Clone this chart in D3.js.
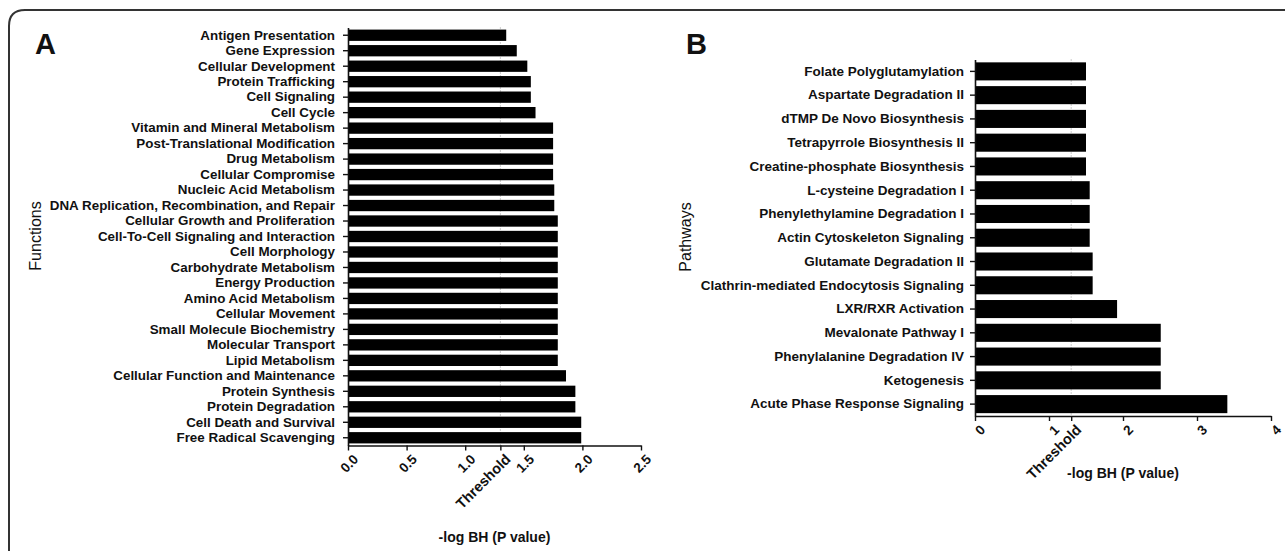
<!DOCTYPE html>
<html>
<head>
<meta charset="utf-8">
<script src="https://cdn.jsdelivr.net/npm/d3@7"></script>
<style>
  body { margin: 0; background: #fff; }
  svg text { font-family: "Liberation Sans", Arial, sans-serif; fill: #111; }
</style>
</head>
<body>
<svg id="chart" width="1285" height="551"></svg>
<script>
// --- data ---
const functionNames = [
  "Antigen Presentation", "Gene Expression", "Cellular Development", "Protein Trafficking",
  "Cell Signaling", "Cell Cycle", "Vitamin and Mineral Metabolism", "Post-Translational Modification",
  "Drug Metabolism", "Cellular Compromise", "Nucleic Acid Metabolism",
  "DNA Replication, Recombination, and Repair", "Cellular Growth and Proliferation",
  "Cell-To-Cell Signaling and Interaction", "Cell Morphology", "Carbohydrate Metabolism",
  "Energy Production", "Amino Acid Metabolism", "Cellular Movement", "Small Molecule Biochemistry",
  "Molecular Transport", "Lipid Metabolism", "Cellular Function and Maintenance",
  "Protein Synthesis", "Protein Degradation", "Cell Death and Survival", "Free Radical Scavenging"
];
const functionValues = [
  1.35, 1.44, 1.53, 1.56, 1.56, 1.60, 1.75, 1.75, 1.75, 1.75, 1.76,
  1.76, 1.79, 1.79, 1.79, 1.79, 1.79, 1.79, 1.79, 1.79, 1.79, 1.79,
  1.86, 1.94, 1.94, 1.99, 1.99
];
const pathwayNames = [
  "Folate Polyglutamylation", "Aspartate Degradation II", "dTMP De Novo Biosynthesis",
  "Tetrapyrrole Biosynthesis II", "Creatine-phosphate Biosynthesis", "L-cysteine Degradation I",
  "Phenylethylamine Degradation I", "Actin Cytoskeleton Signaling", "Glutamate Degradation II",
  "Clathrin-mediated Endocytosis Signaling", "LXR/RXR Activation", "Mevalonate Pathway I",
  "Phenylalanine Degradation IV ", "Ketogenesis", "Acute Phase Response Signaling"
];
const pathwayValues = [
  1.50, 1.50, 1.50, 1.50, 1.50, 1.55, 1.55, 1.55, 1.59, 1.59, 1.92, 2.51, 2.51, 2.51, 3.41
];
const ticksA = [0, 0.5, 1.0, 1.5, 2.0, 2.5];
const ticksB = [0, 1, 2, 3, 4];
const threshold = 1.3;

const svg = d3.select("#chart");

// frame with rounded top-left corner
svg.append("path")
  .attr("d", "M9,551 L9,26 Q9,10 25,10 L1285,10")
  .attr("fill", "none")
  .attr("stroke", "#333")
  .attr("stroke-width", 2);

function drawPanel(cfg) {
  const x = d3.scaleLinear().domain(cfg.domain).range([cfg.left, cfg.right]);
  const y = d3.scaleBand().domain(cfg.names).range([cfg.top, cfg.bottom]).paddingInner(cfg.pad).paddingOuter(cfg.pad / 2);
  const g = svg.append("g");

  // threshold dotted line (behind bars)
  g.append("line")
    .attr("x1", x(threshold)).attr("x2", x(threshold))
    .attr("y1", cfg.top).attr("y2", cfg.bottom)
    .attr("stroke", "#999").attr("stroke-width", 1)
    .attr("stroke-dasharray", "1,2");

  g.selectAll("rect.bar")
    .data(cfg.values)
    .enter()
    .append("rect")
    .attr("class", "bar")
    .attr("x", x(0))
    .attr("y", (d, i) => y(cfg.names[i]))
    .attr("width", d => x(d) - x(0))
    .attr("height", y.bandwidth())
    .attr("fill", "#000");

  // y axis
  const yAxis = g.append("g")
    .attr("transform", `translate(${cfg.left},0)`)
    .call(d3.axisLeft(y).tickSize(5).tickSizeOuter(0).tickPadding(cfg.labelPad));
  yAxis.select(".domain").attr("stroke", "#111").attr("stroke-width", 1.6);
  yAxis.selectAll(".tick line").attr("stroke", "#111").attr("stroke-width", 1.4);
  yAxis.selectAll(".tick text")
    .attr("font-size", cfg.labelSize).attr("font-weight", "bold").attr("fill", "#111");

  // x axis with threshold tick
  const xAxis = g.append("g")
    .attr("transform", `translate(0,${cfg.bottom})`)
    .call(d3.axisBottom(x)
      .tickValues(cfg.ticks.concat([threshold]))
      .tickFormat(d => d === threshold ? "Threshold" : cfg.fmt(d))
      .tickSize(5).tickSizeOuter(0));
  xAxis.select(".domain").attr("stroke", "#111").attr("stroke-width", 1.6);
  xAxis.selectAll(".tick line").attr("stroke", "#111").attr("stroke-width", 1.4);
  xAxis.selectAll(".tick text")
    .attr("font-size", d => d === threshold ? 14.5 : 13.5)
    .attr("font-weight", "bold").attr("fill", "#111")
    .attr("text-anchor", "end")
    .attr("dy", 0)
    .attr("transform", "translate(5,9) rotate(-45)");

  // axis titles
  svg.append("text")
    .attr("x", (cfg.left + cfg.right) / 2).attr("y", cfg.xTitleY)
    .attr("text-anchor", "middle")
    .attr("font-size", 14).attr("font-weight", "bold")
    .text("-log BH (P value)");

  svg.append("text")
    .attr("transform", `translate(${cfg.yTitleX},${cfg.yTitleY}) rotate(-90)`)
    .attr("text-anchor", "middle")
    .attr("font-size", 16)
    .text(cfg.yTitle);

  svg.append("text")
    .attr("x", cfg.letterX).attr("y", cfg.letterY)
    .attr("font-size", 29).attr("font-weight", "bold")
    .text(cfg.letter);
}

drawPanel({
  names: functionNames, values: functionValues, domain: [0, 2.5], ticks: ticksA,
  fmt: d3.format(".1f"),
  left: 348, right: 641, top: 27.5, bottom: 445.5, pad: 0.27,
  labelSize: 13.4, labelPad: 8,
  xTitleY: 542, yTitle: "Functions", yTitleX: 41, yTitleY: 236,
  letter: "A", letterX: 35, letterY: 54
});

drawPanel({
  names: pathwayNames, values: pathwayValues, domain: [0, 4], ticks: ticksB,
  fmt: d3.format("d"),
  left: 975, right: 1271, top: 59.5, bottom: 416, pad: 0.24,
  labelSize: 13.5, labelPad: 6,
  xTitleY: 478, yTitle: "Pathways", yTitleX: 691, yTitleY: 237,
  letter: "B", letterX: 686, letterY: 54
});
</script>
</body>
</html>
